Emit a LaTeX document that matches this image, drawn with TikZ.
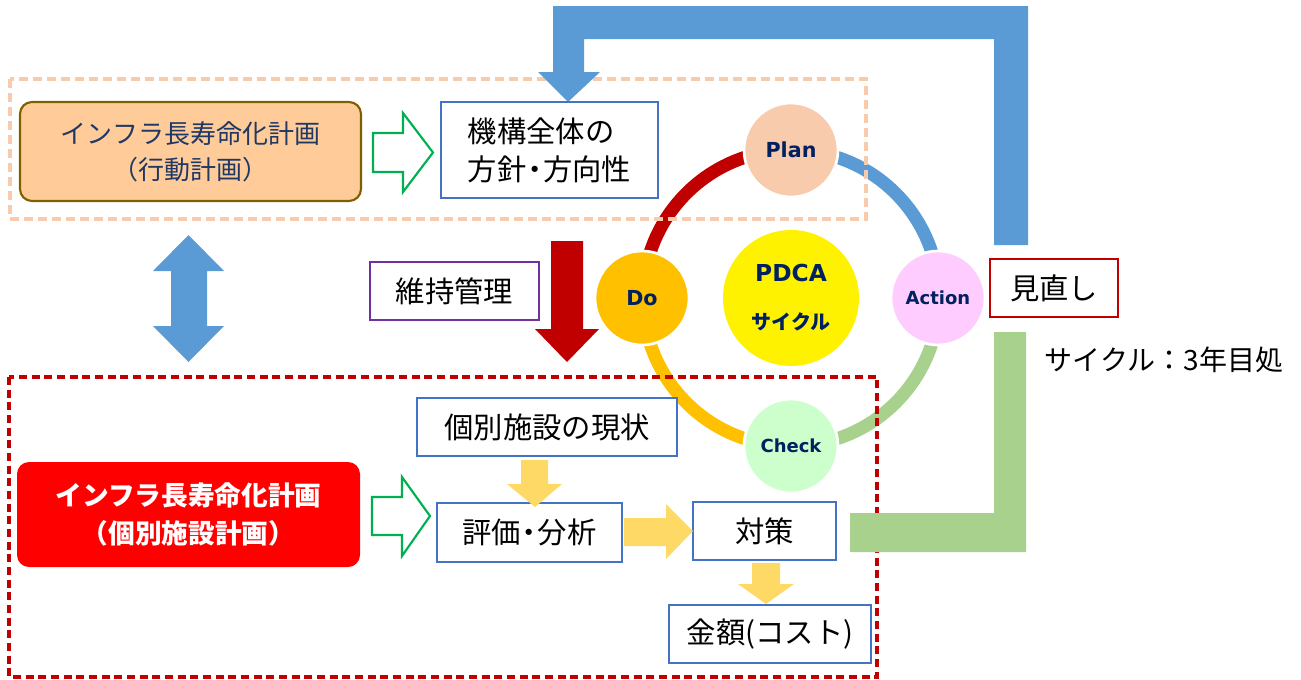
\documentclass[tikz,border=0pt]{standalone}
\usepackage{fontspec}
\newfontfamily\jp{Noto Sans CJK JP}
\newfontfamily\vd{DejaVu Sans}
\definecolor{boxblue}{HTML}{4472C4}
\definecolor{purp}{HTML}{7030A0}
\definecolor{dred}{HTML}{C00000}
\definecolor{peach}{HTML}{F8CBAD}
\definecolor{gold}{HTML}{FFC000}
\definecolor{pink}{HTML}{FFCCFF}
\definecolor{mint}{HTML}{CCFFCC}
\definecolor{rblue}{HTML}{5B9BD5}
\definecolor{rgreen}{HTML}{A9D18E}
\definecolor{yarrow}{HTML}{FFD966}
\definecolor{hgreen}{HTML}{00B050}
\definecolor{orfill}{HTML}{FFCC99}
\definecolor{orbord}{HTML}{7F6000}
\definecolor{navy}{HTML}{002060}
\definecolor{navyt}{HTML}{1F3864}
\newcommand\nd{\kern-0.22em・\kern-0.22em}
\begin{document}
\begin{tikzpicture}[x=0.75pt,y=-0.75pt,
  box/.style={draw=boxblue, line width=1.1pt, fill=white, inner sep=0pt, text=black,
    font=\jp\fontsize{22}{28.5}\selectfont},
  pdc/.style={circle, draw=white, line width=2pt, inner sep=0pt, minimum size=70.5pt,
    text=navy, font=\vd\bfseries\fontsize{15.5}{16}\selectfont},
  ring/.style={line width=9.75pt},
  hollow/.style={draw=hgreen, line width=1.6pt, fill=white, line join=miter},
]
\useasboundingbox (0,0) rectangle (1301,679);

% PDCA ring
\coordinate (rc) at (791,298);
\draw[ring, draw=dred]   (rc) ++(180:148) arc[start angle=180, end angle=270, radius=148];
\draw[ring, draw=rblue]  (rc) ++(270:148) arc[start angle=270, end angle=360, radius=148];
\draw[ring, draw=rgreen] (rc) ++(0:148)   arc[start angle=0,   end angle=90,  radius=148];
\draw[ring, draw=gold]   (rc) ++(90:148)  arc[start angle=90,  end angle=180, radius=148];

% dashed groups
\draw[draw=peach, line width=2.4pt, dash pattern=on 7pt off 3.5pt] (10,79) rectangle (866,219);
\draw[draw=dred, line width=2.4pt, dash pattern=on 6pt off 3.5pt] (9,377) rectangle (877,677);

% PDCA circles
\node[pdc, fill=peach] (plan) at (791,150) {Plan};
\node[pdc, fill=gold] (do) at (642,298) {Do};
\node[pdc, fill=pink, font=\vd\bfseries\fontsize{13.5}{16}\selectfont] (act) at (938,298) {Action};
\node[pdc, fill=mint, font=\vd\bfseries\fontsize{13.5}{16}\selectfont] (chk) at (791,446) {Check};
\node[circle, fill=yellow, inner sep=0pt, minimum size=102pt, align=center, text=navy,
  font=\fontsize{15}{36}\selectfont] (pdca) at (791,298)
  {{\vd\bfseries\fontsize{17.5}{36}\selectfont PDCA}\\{\jp\bfseries\fontsize{15}{36}\selectfont サイクル}};

% blue feedback arrow
\fill[rblue] (553,72) -- (553,6) -- (1028,6) -- (1028,245) -- (994,245) -- (994,39)
  -- (584,39) -- (584,72) -- (600,72) -- (568,102) -- (538,72) -- cycle;
% green feedback bar
\fill[rgreen] (850,513) -- (994,513) -- (994,332) -- (1026,332) -- (1026,552) -- (850,552) -- cycle;

% upper plan
\node[draw=orbord, line width=1.6pt, fill=orfill, rounded corners=9pt, inner sep=0pt,
  minimum width=255.75pt, minimum height=74.25pt, align=center, text=navyt,
  font=\jp\fontsize{19.5}{27}\selectfont] (kodo) at (190.5,151.5)
  {インフラ長寿命化計画\\（行動計画）};
\node[box, minimum width=162.75pt, minimum height=72pt, align=left] (kikou) at (549.5,150)
  {機構全体の\\方針\nd 方向性};
\draw[hollow] (373,133) -- (403,133) -- (403,113) -- (433,152.5) -- (403,192) -- (403,172) -- (373,172) -- cycle;

% double arrow
\fill[rblue] (188.5,235) -- (224,271) -- (207,271) -- (207,326) -- (224,326) -- (188.5,362)
  -- (153,326) -- (171,326) -- (171,271) -- (153,271) -- cycle;

% maintenance
\node[box, draw=purp, minimum width=126.75pt, minimum height=43.5pt] (iji) at (454.5,291) {維持管理};
\fill[dred] (551,241) -- (583,241) -- (583,329) -- (599,329) -- (567,362) -- (535,329) -- (551,329) -- cycle;

% review
\node[box, draw=dred, line width=1.9pt, minimum width=96pt, minimum height=43.5pt] (minaoshi) at (1054,288) {見直し};
\node[inner sep=0pt, text=black, font=\jp\fontsize{21}{24}\selectfont] (cyc) at (1164,360) {サイクル：3年目処};

% lower plan
\node[fill=red, rounded corners=9pt, inner sep=0pt, minimum width=257.25pt, minimum height=78.75pt,
  align=center, text=white, font=\jp\bfseries\fontsize{20}{29}\selectfont] (kobetsu) at (188.5,514.5)
  {インフラ長寿命化計画\\（個別施設計画）};
\draw[hollow] (372,497) -- (402,497) -- (402,477) -- (430,516) -- (402,556) -- (402,535) -- (372,535) -- cycle;

\node[box, minimum width=195pt, minimum height=43.5pt] (genjo) at (547,427) {個別施設の現状};
\node[box, minimum width=138.75pt, minimum height=44.25pt] (hyoka) at (529.5,532.5) {評価\nd 分析};
\node[box, minimum width=107.25pt, minimum height=43.5pt] (taisaku) at (764.5,531) {対策};
\node[box, minimum width=151.5pt, minimum height=43.5pt] (kingaku) at (770,634) {金額(コスト)};

\fill[yarrow] (521,460) -- (548,460) -- (548,484) -- (562,484) -- (535,507) -- (507,484) -- (521,484) -- cycle;
\fill[yarrow] (624,518) -- (666,518) -- (666,504) -- (693,531) -- (666,559) -- (666,546) -- (624,546) -- cycle;
\fill[yarrow] (752,563) -- (780,563) -- (780,584) -- (794,584) -- (766,604) -- (738,584) -- (752,584) -- cycle;
\end{tikzpicture}
\end{document}
